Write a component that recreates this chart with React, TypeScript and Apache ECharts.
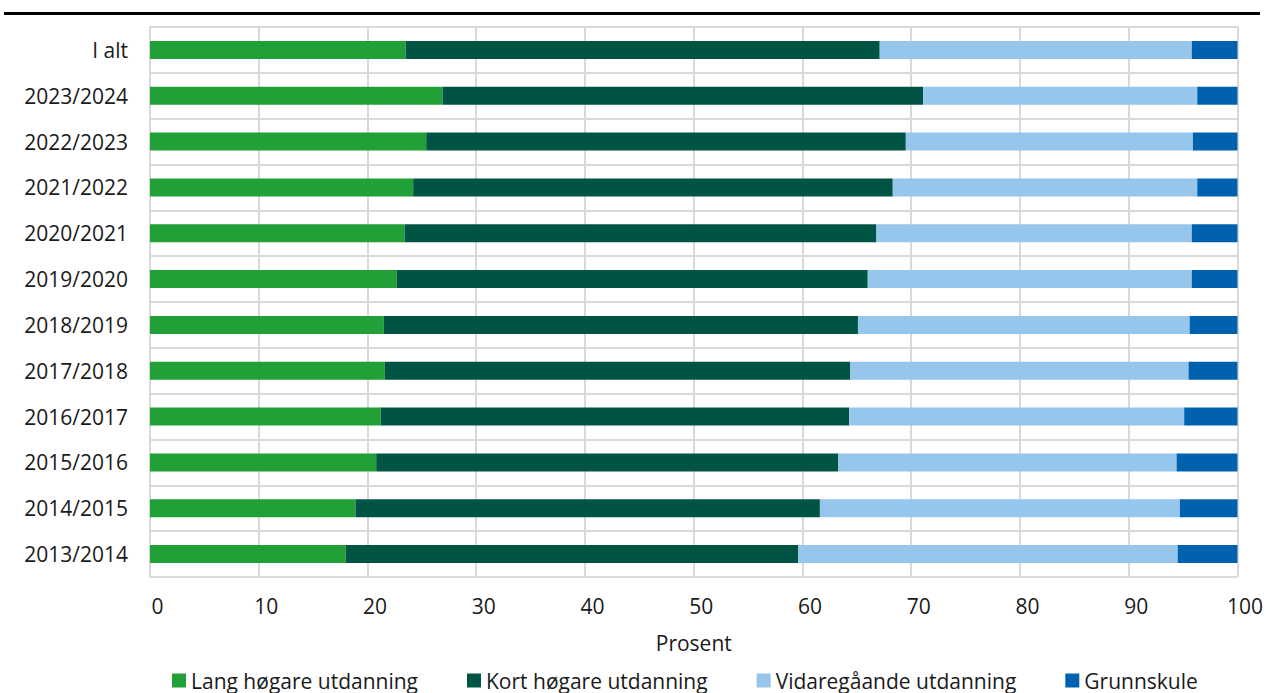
import React, { useEffect, useRef } from "react";
import * as echarts from "echarts";

const categories = [
  "I alt",
  "2023/2024",
  "2022/2023",
  "2021/2022",
  "2020/2021",
  "2019/2020",
  "2018/2019",
  "2017/2018",
  "2016/2017",
  "2015/2016",
  "2014/2015",
  "2013/2014",
];

const langHogare = [23.5, 26.9, 25.4, 24.2, 23.4, 22.7, 21.5, 21.6, 21.2, 20.8, 18.9, 18.0];
const kortHogare = [43.6, 44.2, 44.1, 44.1, 43.4, 43.3, 43.6, 42.8, 43.1, 42.5, 42.7, 41.6];
const vidaregaande = [28.7, 25.2, 26.4, 28.0, 29.0, 29.8, 30.5, 31.1, 30.8, 31.1, 33.1, 34.9];
const grunnskule = [4.2, 3.7, 4.1, 3.7, 4.2, 4.2, 4.4, 4.5, 4.9, 5.6, 5.3, 5.5];

const seriesNames = [
  "Lang høgare utdanning",
  "Kort høgare utdanning",
  "Vidaregåande utdanning",
  "Grunnskule",
];
const seriesColors = ["#21a038", "#005444", "#96c6eb", "#0062af"];
const seriesData = [langHogare, kortHogare, vidaregaande, grunnskule];

const FONT = "'Open Sans', 'Noto Sans', sans-serif";

export default function App() {
  const ref = useRef<HTMLDivElement>(null);

  useEffect(() => {
    if (!ref.current) return;
    const chart = echarts.init(ref.current, undefined, { renderer: "svg" });
    chart.setOption({
      animation: false,
      textStyle: { fontFamily: FONT },
      graphic: [
        {
          type: "rect",
          shape: { x: 4, y: 12, width: 1256, height: 3 },
          style: { fill: "#000" },
        },
      ],
      grid: { left: 150, right: 28, top: 27, bottom: 116, containLabel: false },
      legend: {
        left: 167,
        top: 665,
        itemWidth: 14,
        itemHeight: 14,
        itemGap: 49,
        icon: "rect",
        textStyle: { fontSize: 21, color: "#1a1a1a", fontFamily: FONT },
        data: seriesNames,
      },
      xAxis: {
        type: "value",
        min: 0,
        max: 100,
        interval: 10,
        name: "Prosent",
        nameLocation: "middle",
        nameGap: 55,
        nameTextStyle: { fontSize: 21, color: "#1a1a1a", fontFamily: FONT },
        axisLine: { show: false },
        axisTick: { show: false },
        axisLabel: {
          fontSize: 21,
          color: "#1a1a1a",
          fontFamily: FONT,
          margin: 18,
          padding: [0, 0, 0, 15],
        },
        splitLine: { show: true, lineStyle: { color: "#d9d9d9", width: 2 } },
      },
      yAxis: {
        type: "category",
        data: categories,
        inverse: true,
        axisLine: { show: true, lineStyle: { color: "#d9d9d9", width: 2 } },
        axisTick: { show: false },
        axisLabel: { fontSize: 21, color: "#1a1a1a", fontFamily: FONT, margin: 22 },
        splitLine: { show: true, lineStyle: { color: "#d9d9d9", width: 2 } },
      },
      series: seriesNames.map((name, i) => ({
        name,
        type: "bar",
        stack: "total",
        barWidth: 18,
        data: seriesData[i],
        itemStyle: { color: seriesColors[i] },
      })),
    });
    return () => chart.dispose();
  }, []);

  return (
    <div
      ref={ref}
      style={{ position: "fixed", left: 0, top: 0, width: 1266, height: 693, background: "#fff" }}
    />
  );
}
